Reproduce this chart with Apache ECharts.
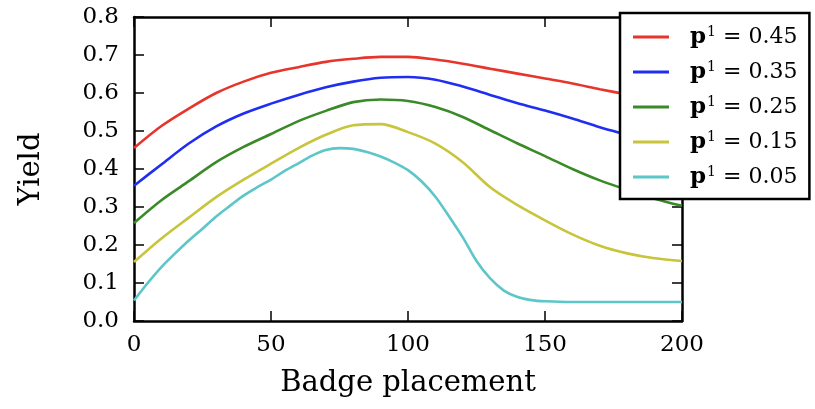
<!DOCTYPE html>
<html>
<head>
<meta charset="utf-8">
<script src="https://cdn.jsdelivr.net/npm/echarts@6/dist/echarts.min.js"></script>
<style>
html,body{margin:0;padding:0;background:#fff;}
#c{width:815px;height:409px;}
</style>
</head>
<body>
<div id="c"></div>
<script>
// x positions (badge placement)
const xCoarse = [0,10,20,30,40,50,60,70,80,90,100,110,120,130,140,150,160,170,180,190,200];
const xFine = [0,5,10,15,20,25,30,35,40,45,50,55,60,65,70,75,80,85,90,95,100,105,110,115,120,125,130,135,140,145,150,160,170,180,190,200];

const seriesNames = ['0.45','0.35','0.25','0.15','0.05'];
const yield045 = [0.455,0.513,0.559,0.600,0.630,0.653,0.668,0.682,0.690,0.695,0.695,0.688,0.677,0.664,0.651,0.638,0.625,0.610,0.596,0.581,0.566];
const yield035 = [0.356,0.412,0.467,0.512,0.546,0.572,0.595,0.615,0.630,0.640,0.642,0.635,0.617,0.595,0.573,0.554,0.533,0.510,0.490,0.470,0.452];
const yield025 = [0.258,0.318,0.368,0.418,0.458,0.492,0.526,0.553,0.576,0.583,0.579,0.563,0.537,0.502,0.467,0.434,0.400,0.370,0.345,0.322,0.303];
const yield015 = [0.155,0.217,0.272,0.326,0.372,0.414,0.455,0.490,0.515,0.518,0.497,0.467,0.418,0.352,0.305,0.265,0.228,0.198,0.178,0.165,0.158];
const yield005 = [0.054,0.100,0.142,0.178,0.212,0.243,0.275,0.303,0.330,0.352,0.372,0.395,0.415,0.435,0.450,0.455,0.453,0.445,0.433,0.417,0.397,0.367,0.327,0.275,0.220,0.158,0.112,0.080,0.063,0.055,0.052,0.050,0.050,0.050,0.050,0.050];

const colors = ['#e8352c','#1f2ef0','#3a8a28','#c8c43c','#5cc6c8'];

const serif = '"DejaVu Serif", "Liberation Serif", serif';

function pairs(xs, ys){ return xs.map((x,i)=>[x, ys[i]]); }
const allY = [yield045, yield035, yield025, yield015, yield005];
const allX = [xCoarse, xCoarse, xCoarse, xCoarse, xFine];

const chart = echarts.init(document.getElementById('c'), null, {renderer:'canvas'});

function axisCommon(){
  return {
    axisLine:{show:true, onZero:false, lineStyle:{color:'#000', width:2.5}},
    axisTick:{show:true, inside:true, length:10, lineStyle:{color:'#000', width:1.5}},
    splitLine:{show:false}
  };
}

chart.setOption({
  animation:false,
  backgroundColor:'#fff',
  grid:{left:134, right:133, top:17, bottom:88, containLabel:false},
  xAxis:[
    Object.assign({
      type:'value', min:0, max:200, interval:50, position:'bottom',
      name:'Badge placement', nameLocation:'middle', nameGap:48,
      nameTextStyle:{fontFamily:serif, fontSize:29, color:'#000'},
      axisLabel:{fontFamily:serif, fontSize:23, color:'#000', margin:13}
    }, axisCommon()),
    Object.assign({
      type:'value', min:0, max:200, interval:50, position:'top',
      axisLabel:{show:false}
    }, axisCommon())
  ],
  yAxis:[
    Object.assign({
      type:'value', min:0, max:0.8, interval:0.1, position:'left',
      name:'Yield', nameLocation:'middle', nameGap:88, nameRotate:90,
      nameTextStyle:{fontFamily:serif, fontSize:29, color:'#000'},
      axisLabel:{fontFamily:serif, fontSize:23, color:'#000', margin:15,
        formatter:v=>v.toFixed(1)}
    }, axisCommon()),
    Object.assign({
      type:'value', min:0, max:0.8, interval:0.1, position:'right',
      axisLabel:{show:false}
    }, axisCommon())
  ],
  legend:{
    orient:'vertical', left:620, top:13,
    padding:[12,12,10,13], itemGap:11,
    backgroundColor:'#fff', borderColor:'#000', borderWidth:2.5, borderRadius:0,
    icon:'rect', itemWidth:36, itemHeight:3,
    data:seriesNames,
    formatter:name=>'{b|p}{s|1}{n| = '+name+'}',
    textStyle:{
      fontFamily:serif, fontSize:22, color:'#000',
      rich:{
        b:{fontFamily:serif, fontSize:23, fontWeight:'bold', padding:[0,0,0,16], lineHeight:24},
        s:{fontFamily:serif, fontSize:14, verticalAlign:'top', padding:[0,0,10,1], lineHeight:24},
        n:{fontFamily:serif, fontSize:22, lineHeight:24}
      }
    }
  },
  series: seriesNames.map((n,i)=>({
    name:n, type:'line', smooth:0.3, showSymbol:false, symbol:'none',
    xAxisIndex:0, yAxisIndex:0,
    lineStyle:{color:colors[i], width:2.6},
    itemStyle:{color:colors[i]},
    data:pairs(allX[i], allY[i])
  }))
});
</script>
</body>
</html>
